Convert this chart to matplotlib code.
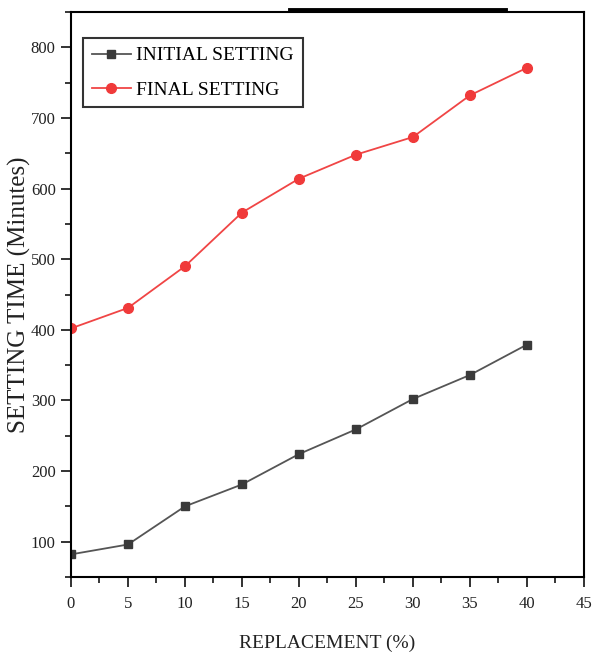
import matplotlib
matplotlib.use("Agg")
import matplotlib.pyplot as plt
from matplotlib.ticker import MultipleLocator
from matplotlib.lines import Line2D

replacement = [0, 5, 10, 15, 20, 25, 30, 35, 40]
initial_setting = [82, 96, 150, 181, 224, 259, 302, 336, 379]
final_setting = [402, 431, 490, 566, 614, 648, 673, 732, 771]

plt.rcParams['font.family'] = ['Liberation Serif', 'DejaVu Serif']

fig = plt.figure(figsize=(5.94, 6.57), dpi=100)
ax = fig.add_axes([0.1195, 0.1218, 0.8635, 0.8599])

ax.plot(replacement, initial_setting, color='#555555', lw=1.3, marker='s',
        markersize=6, markerfacecolor='#3a3a3a', markeredgecolor='#3a3a3a',
        label='INITIAL SETTING')
ax.plot(replacement, final_setting, color='#f04545', lw=1.3, marker='o',
        markersize=7, markerfacecolor='#f03a3a', markeredgecolor='#f03a3a',
        label='FINAL SETTING')

ax.set_xlim(0, 45)
ax.set_ylim(50, 850)
ax.xaxis.set_major_locator(MultipleLocator(5))
ax.xaxis.set_minor_locator(MultipleLocator(2.5))
ax.yaxis.set_minor_locator(MultipleLocator(50))
ax.set_yticks([100, 200, 300, 400, 500, 600, 700, 800])

for s in ax.spines.values():
    s.set_linewidth(1.5)
ax.tick_params(which='major', direction='out', length=7, width=1.3, labelsize=12, colors='#222222')
ax.tick_params(which='minor', direction='out', length=4, width=1.1)
ax.tick_params(axis='x', which='major', pad=7)
ax.tick_params(axis='y', which='major', pad=4)

ax.set_xlabel('REPLACEMENT (%)', fontsize=14, labelpad=16, color='#222222')
ax.set_ylabel('SETTING TIME (Minutes)', fontsize=18, color='#222222',
              va='center')
ax.yaxis.set_label_coords(-0.101, 0.5)

leg = ax.legend(loc='upper left', bbox_to_anchor=(0.0234, 0.954), fontsize=14,
                frameon=True, fancybox=False, shadow=False, borderpad=0.45,
                handlelength=2.0, handletextpad=0.3, labelspacing=0.85,
                borderaxespad=0.0)
leg.get_frame().set_edgecolor('black')
leg.get_frame().set_linewidth(1.5)

# thick bar at top of the image
fig.add_artist(Line2D([290/594, 505/594], [1 - 10/657, 1 - 10/657],
                      color='black', lw=3.5, transform=fig.transFigure))

fig.savefig('out.png', dpi=100)
